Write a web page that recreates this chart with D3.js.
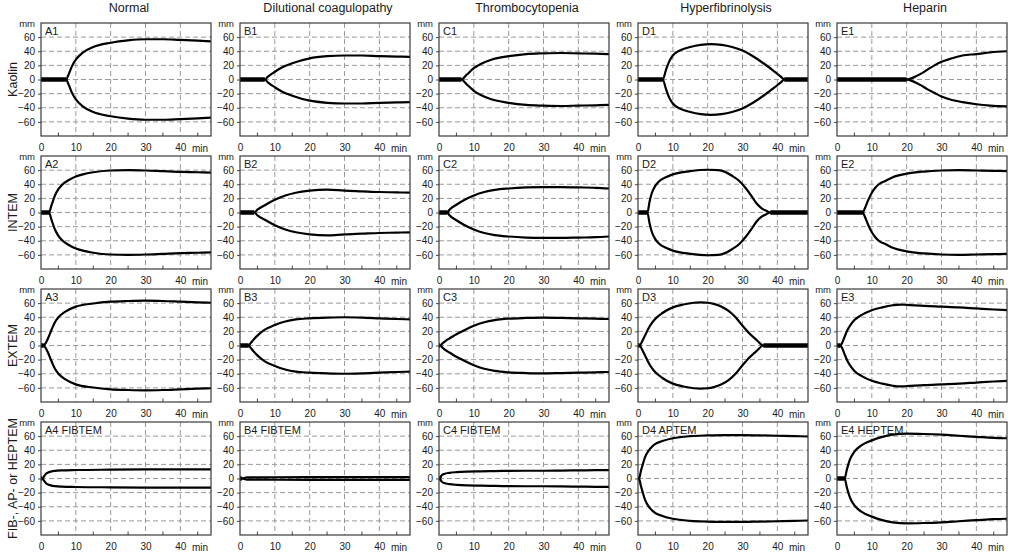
<!DOCTYPE html>
<html>
<head>
<meta charset="utf-8">
<script src="https://cdn.jsdelivr.net/npm/d3@7"></script>
<style>
  html, body { margin: 0; padding: 0; background: #fff; }
  svg { display: block; }
  text { font-family: "Liberation Sans", Arial, sans-serif; fill: #1a1a1a; }
</style>
</head>
<body>
<svg id="chart" width="1024" height="556"></svg>
<script>
// ---------- data ----------
const columnTitles = ["Normal", "Dilutional coagulopathy", "Thrombocytopenia", "Hyperfibrinolysis", "Heparin"];
const rowTitles = ["Kaolin", "INTEM", "EXTEM", "FIB-, AP- or HEPTEM"];
const panelNames = [
  ["A1", "B1", "C1", "D1", "E1"],
  ["A2", "B2", "C2", "D2", "E2"],
  ["A3", "B3", "C3", "D3", "E3"],
  ["A4 FIBTEM", "B4 FIBTEM", "C4 FIBTEM", "D4 APTEM", "E4 HEPTEM"]
];
const yTicks = [60, 40, 20, 0, -20, -40, -60];
const xTicks = [0, 10, 20, 30, 40];
const xMinorTicks = [5, 15, 25, 35, 45];
const xUnit = "min";
const yUnit = "mm";

// amplitude (mm) vs time (min); the lower trace mirrors the upper one
const A1 = [[0,0],[7.2,0],[8,8],[9,20],[10,28],[12,38],[15,46],[20,52],[25,55.5],[30,57],[35,57],[40,56],[45,55],[48.8,54]];
const B1 = [[0,0],[7.1,0],[8,4],[10,11],[12,17],[15,23],[20,30],[25,33],[30,34],[35,34],[40,33],[45,32.5],[48.8,32]];
const C1 = [[0,0],[6.4,0],[8,7],[10,16],[12,22],[15,28],[20,33],[25,36],[30,37],[35,37.5],[40,37],[45,36.5],[48.8,36]];
const D1 = [[0,0],[7.1,0],[8,13],[9,26],[10,34],[12,41],[15,46],[18,49],[21,50],[24,49],[27,46],[30,41],[33,33],[36,23],[39,12],[41,4],[42,0],[48.8,0]];
const E1 = [[0,0],[20,0],[22,3],[24,8],[26,14],[28,20],[30,25],[33,30],[36,34],[40,36],[44,38.5],[48.8,40]];
const E1low = [[0,0],[20,0],[22,3],[24,8],[26,14],[28,19],[30,24],[33,29],[36,32],[40,35],[44,37],[48.8,38]];

const A2 = [[0,0],[2.3,0],[3,10],[4,24],[5,33],[6,39],[8,46],[10,51],[12,54],[15,57],[20,59.5],[25,60],[30,59.5],[35,58.5],[40,57.5],[45,57],[48.8,56.5]];
const B2 = [[0,0],[4.1,0],[5,4],[7,10],[10,18],[13,24],[16,28],[20,31],[25,32.5],[30,31],[35,30],[40,29],[45,28.5],[48.8,28]];
const C2 = [[0,0],[2.4,0],[3,4],[5,11],[7,17],[10,24],[13,29],[16,32],[20,34],[25,35.5],[30,36],[35,36],[40,35.5],[45,35],[48.8,34]];
const D2 = [[0,0],[2.7,0],[3.3,15],[4,28],[5,38],[6,44],[8,50],[10,54],[15,58.5],[20,60.5],[23,60],[25,57.5],[27,52],[29,45],[31,34],[32.5,24],[34,13],[35.5,6],[37,2],[38,0],[48.8,0]];
const E2 = [[0,0],[7.4,0],[8,6],[9,18],[10,28],[11,35],[12,40],[14,45],[16,50],[20,55],[25,58],[30,59.5],[35,60],[40,59.5],[45,59],[48.8,58.5]];

const A3 = [[0,0],[0.8,0],[1.5,5],[2,10],[3,22],[4,33],[5,40],[7,48],[10,55],[15,59.5],[20,62],[25,63],[30,63.5],[35,63],[40,62],[45,61],[48.8,60.5]];
const B3 = [[0,0],[2.5,0],[3,3],[4,9],[5,14],[7,22],[10,29],[13,34],[16,37],[20,38.5],[25,39.5],[30,40],[35,39.5],[40,38.5],[45,37.5],[48.8,37]];
const C3 = [[0,0],[0.3,0],[1,3],[2,7],[3,10],[5,16],[7,21],[10,28],[13,33],[16,36],[20,38],[25,39],[30,39.5],[35,39],[40,38.5],[45,38],[48.8,37.5]];
const D3 = [[0,0],[0.5,0],[1.2,6],[2,14],[3,24],[4,32],[5,38],[7,46],[10,54],[13,58],[16,60.5],[18,61],[20,60.5],[22,58.5],[24,55],[26,49],[28,40],[30,28],[32,17],[34,8],[36,0],[48.8,0]];
const E3 = [[0,0],[1,0],[1.5,4],[2,10],[3,22],[4,30],[5,36],[7,43],[10,50],[13,54],[16,57],[18,58],[20,57.5],[25,56],[30,55],[35,54],[40,52.5],[45,51],[48.8,50]];

const A4 = [[0,0],[0.3,0],[1,4],[1.5,7],[2,8.5],[3,10],[4,10.8],[6,11.5],[10,12],[20,12.5],[30,12.8],[40,13],[48.8,13]];
const B4 = [[0,0],[0.5,0],[2,1.5],[10,1.8],[20,2],[30,2],[40,2],[48.8,2]];
const C4 = [[0,0],[0.2,0],[0.7,4],[1.5,6.5],[3,8],[5,9],[8,9.8],[12,10.2],[16,10.5],[20,10.8],[25,11],[30,11],[35,11.2],[40,11.5],[45,11.8],[48.8,12]];
const D4 = [[0,0],[0.3,0],[0.8,10],[1.5,22],[2,30],[3,39],[4,45],[5,49],[7,53],[10,57],[15,60],[20,61],[25,61.5],[30,61.5],[35,61],[40,60.5],[45,60],[48.8,59.5]];
const E4 = [[0,0],[2.2,0],[2.8,12],[3.5,24],[4,30],[5,38],[7,47],[10,54],[13,59],[16,62],[20,63.5],[25,63],[30,62],[35,60.5],[40,59],[45,57.5],[48.8,57]];

const traces = [
  [A1, B1, C1, D1, E1],
  [A2, B2, C2, D2, E2],
  [A3, B3, C3, D3, E3],
  [A4, B4, C4, D4, E4]
];
const lowerTraces = { "0-4": E1low };

// ---------- layout ----------
const svg = d3.select("#chart");
const panelW = 170, panelH = 113;
const left0 = 41, top0 = 23, colStep = 199, rowStep = 133;

const x = d3.scaleLinear().domain([0, 48.8]).range([0, panelW]);
const y = d3.scaleLinear().domain([-80, 80]).range([panelH, 0]);

const line = d3.line().x(d => x(d[0])).y(d => y(d[1])).curve(d3.curveMonotoneX);

// column titles
columnTitles.forEach((t, c) => {
  svg.append("text")
    .attr("x", left0 + c * colStep + panelW / 2 + 3)
    .attr("y", 11.5)
    .attr("text-anchor", "middle")
    .attr("font-size", 12.5)
    .text(t);
});

// row titles
rowTitles.forEach((t, r) => {
  const cy = top0 + r * rowStep + panelH / 2;
  svg.append("text")
    .attr("transform", `translate(13,${cy}) rotate(-90)`)
    .attr("text-anchor", "middle")
    .attr("dominant-baseline", "central")
    .attr("font-size", 12.5)
    .text(t);
});

for (let r = 0; r < 4; r++) {
  for (let c = 0; c < 5; c++) {
    const g = svg.append("g").attr("transform", `translate(${left0 + c * colStep},${top0 + r * rowStep})`);

    // grid
    g.selectAll(".hg").data(yTicks).join("line")
      .attr("x1", 0).attr("x2", panelW)
      .attr("y1", d => y(d)).attr("y2", d => y(d))
      .attr("stroke", "#9a9a9a").attr("stroke-width", 1).attr("stroke-dasharray", "5,3");
    g.selectAll(".vg").data(xTicks.filter(d => d > 0)).join("line")
      .attr("x1", d => x(d)).attr("x2", d => x(d))
      .attr("y1", 0).attr("y2", panelH)
      .attr("stroke", "#9a9a9a").attr("stroke-width", 1).attr("stroke-dasharray", "5,3");

    // y axis (outside ticks)
    const yAxis = d3.axisLeft(y).tickValues(yTicks).tickSize(3).tickPadding(3).tickFormat(d3.format("d"));
    const ya = g.append("g").call(yAxis);
    ya.select(".domain").remove();
    ya.selectAll("line").attr("stroke", "#444");
    ya.selectAll("text").attr("font-size", 10).attr("fill", "#1a1a1a")
      .style("font-family", '"Liberation Sans", Arial, sans-serif');

    // x axis labels
    const xAxis = d3.axisBottom(x).tickValues(xTicks).tickSize(0).tickPadding(8).tickFormat(d3.format("d"));
    const xa = g.append("g").attr("transform", `translate(0,${panelH})`).call(xAxis);
    xa.select(".domain").remove();
    xa.selectAll("text").attr("font-size", 10).attr("fill", "#1a1a1a")
      .style("font-family", '"Liberation Sans", Arial, sans-serif');

    // minor inward ticks at bottom
    g.selectAll(".mt").data(xMinorTicks).join("line")
      .attr("x1", d => x(d)).attr("x2", d => x(d))
      .attr("y1", panelH).attr("y2", panelH - 3.5)
      .attr("stroke", "#444").attr("stroke-width", 1);

    // unit labels
    g.append("text").attr("x", -6).attr("y", 4)
      .attr("text-anchor", "end").attr("font-size", 9.5).text(yUnit);
    g.append("text").attr("x", panelW - 3).attr("y", panelH + 16)
      .attr("text-anchor", "end").attr("font-size", 10).text(xUnit);

    // traces
    const up = traces[r][c];
    const low = (lowerTraces[`${r}-${c}`] || up).map(d => [d[0], -d[1]]);
    const clip = `clip-${r}-${c}`;
    g.append("clipPath").attr("id", clip).append("rect")
      .attr("x", 0).attr("y", 0).attr("width", panelW).attr("height", panelH);
    const tg = g.append("g").attr("clip-path", `url(#${clip})`);

    // thick flat baseline where amplitude is zero
    for (let i = 0; i < up.length - 1; i++) {
      if (up[i][1] === 0 && up[i + 1][1] === 0) {
        tg.append("line")
          .attr("x1", x(up[i][0])).attr("x2", x(up[i + 1][0]))
          .attr("y1", y(0)).attr("y2", y(0))
          .attr("stroke", "#000").attr("stroke-width", 4.5);
      }
    }
    tg.append("path").datum(up).attr("d", line)
      .attr("fill", "none").attr("stroke", "#000").attr("stroke-width", 2.2);
    tg.append("path").datum(low).attr("d", line)
      .attr("fill", "none").attr("stroke", "#000").attr("stroke-width", 2.2);

    // frame
    g.append("rect").attr("x", 0).attr("y", 0).attr("width", panelW).attr("height", panelH)
      .attr("fill", "none").attr("stroke", "#3a3a3a").attr("stroke-width", 1.2);

    // panel label
    g.append("text").attr("x", 4).attr("y", 11.5)
      .attr("font-size", 11).text(panelNames[r][c]);
  }
}
</script>
</body>
</html>
